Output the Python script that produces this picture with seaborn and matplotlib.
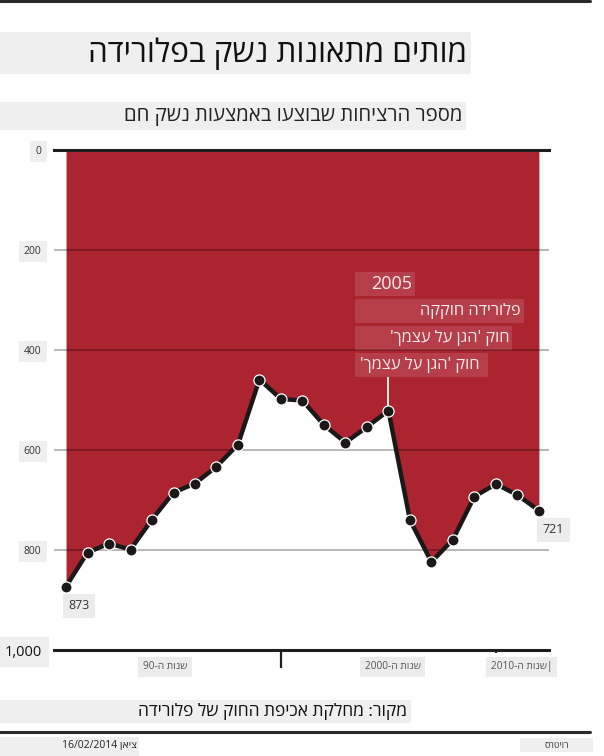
import re
import matplotlib
matplotlib.use("Agg")
import matplotlib.pyplot as plt
from matplotlib.patches import Rectangle
from matplotlib.lines import Line2D
import seaborn as sns

# ---- data ----
years = list(range(1990, 2013))
deaths = [873, 805, 787, 799, 739, 685, 667, 633, 589, 459, 498, 501,
          550, 585, 554, 521, 740, 824, 779, 693, 668, 690, 721]
y_ticks = [0, 200, 400, 600, 800, 1000]
y_tick_labels = ["0", "200", "400", "600", "800", "1,000"]
decade_pos = [1994.6, 2005.2, 2011.2]
decade_labels = ["שנות ה-90", "שנות ה-2000", "|שנות ה-2010"]
title = "מותים מתאונות נשק בפלורידה"
subtitle = "מספר הרציחות שבוצעו באמצעות נשק חם"
annot_year = 2005
annot_lines = ["פלורידה חוקקה", "חוק 'הגן על עצמך'", "חוק 'הגן על עצמך'"]
source = "מקור: מחלקת אכיפת החוק של פלורידה"
date_credit = "ציאן 16/02/2014"
agency = "רויטרס"


def rtl(s):
    r = s[::-1]
    return re.sub(r"[0-9][0-9/.,:]*[0-9]|[0-9]", lambda m: m.group(0)[::-1], r)


sns.set_theme(style="white")
plt.rcParams["font.family"] = ["Open Sans", "Liberation Sans", "DejaVu Sans"]

W, H = 604, 756
fig = plt.figure(figsize=(W / 100, H / 100), dpi=100)
fig.patch.set_facecolor("white")


def px_rect(x0, y0, x1, y1, color, alpha=1.0, z=0.5):
    fig.add_artist(Rectangle((x0 / W, 1 - y1 / H), (x1 - x0) / W, (y1 - y0) / H,
                             transform=fig.transFigure, facecolor=color,
                             edgecolor="none", alpha=alpha, zorder=z))


def px_text(x, y, s, **kw):
    fig.text(x / W, 1 - y / H, s, **kw)


def px_line(x0, x1, y, lw=2, color="#2a2a2a"):
    fig.add_artist(Line2D([x0 / W, x1 / W], [1 - y / H, 1 - y / H],
                          transform=fig.transFigure, color=color, lw=lw))


# axes: left px 54, right px 549, top px 150, bottom px 650
ax = fig.add_axes([54 / W, 1 - 650 / H, 495 / W, 500 / H])
ax.set_facecolor("none")
red = "#ad2431"

ax.fill_between(years, 0, deaths, color=red, lw=0, zorder=1)
sns.lineplot(x=years, y=deaths, ax=ax, color="#1c1818", lw=3.2, marker="o",
             markersize=8, markerfacecolor="#1c1818", markeredgecolor="white",
             markeredgewidth=0.9, zorder=4)

ax.set_xlim(1989.44, 2012.47)
ax.set_ylim(1000, 0)
ax.set_xlabel("")
ax.set_ylabel("")

# grid
for yv in y_ticks[1:-1]:
    ax.axhline(yv, color="black", alpha=0.3, lw=1.3, zorder=2)

for side in ["left", "right"]:
    ax.spines[side].set_visible(False)
for side in ["top", "bottom"]:
    ax.spines[side].set_color("#1e1e1e")
    ax.spines[side].set_linewidth(2.2)
    ax.spines[side].set_zorder(5)

# y ticks
ax.set_yticks(y_ticks)
ax.set_yticklabels(y_tick_labels)
ax.tick_params(axis="y", length=0, pad=9, labelsize=7.5, labelcolor="#333333")
for lab in ax.get_yticklabels():
    lab.set_bbox(dict(boxstyle="square,pad=0.5", fc="#efefef", ec="none"))
big = ax.get_yticklabels()[-1]
big.set_fontsize(10.5)
big.set_color("#111111")

# x ticks: decade divider ticks
ax.set_xticks([2000, 2010])
ax.set_xticklabels(["", ""])
ax.tick_params(axis="x", which="major", direction="out", length=13, width=1.6,
               color="#1e1e1e", bottom=True)
ticks = ax.xaxis.get_major_ticks()
ticks[1].tick1line.set_markersize(2.5)
ax.set_xticks(decade_pos, minor=True)
ax.set_xticklabels([rtl(s) for s in decade_labels], minor=True)
ax.tick_params(axis="x", which="minor", length=0, pad=8, labelsize=7.3,
               labelcolor="#555555")
for lab in ax.get_xticklabels(minor=True):
    lab.set_bbox(dict(boxstyle="square,pad=0.45", fc="#ececec", ec="none"))

# end labels
lab_box = dict(boxstyle="square,pad=0.45", fc="#ececec", ec="none")
ax.annotate(f"{deaths[0]}", (years[0], deaths[0]), xytext=(9.5, -14),
            textcoords="offset points", ha="center", va="center", fontsize=9,
            color="#333333", bbox=lab_box, zorder=6)
ax.annotate(f"{deaths[-1]}", (years[-1], deaths[-1]), xytext=(10.5, -14),
            textcoords="offset points", ha="center", va="center", fontsize=9,
            color="#333333", bbox=lab_box, zorder=6)

# annotation for 2005
ai = years.index(annot_year)
ax.vlines(annot_year, 454, deaths[ai], color="white", lw=1.3, zorder=3)
px_rect(355, 272, 415, 296, "white", alpha=0.12, z=1)
px_text(392, 284, str(annot_year), ha="center", va="center", fontsize=13,
        color="#f7ecec", zorder=2)
boxes = [(355, 299, 524, 323, 521, 311), (355, 326, 512, 350, 509, 338),
         (355, 353, 488, 377, 480, 365)]
for (x0, y0, x1, y1, tx, ty), s in zip(boxes, annot_lines):
    px_rect(x0, y0, x1, y1, "white", alpha=0.12, z=1)
    px_text(tx, ty, rtl(s), ha="right", va="center", fontsize=11.8,
            color="#f7ecec", zorder=2)

# header
px_line(0, 590, 1, lw=2.2)
px_rect(0, 32, 471, 74, "#efefef", z=0.2)
px_text(467, 53, rtl(title), ha="right", va="center", fontsize=22.7,
        color="#111111")
px_rect(0, 102, 466, 130, "#efefef", z=0.2)
px_text(462, 116, rtl(subtitle), ha="right", va="center", fontsize=14.6,
        color="#222222")

# footer
px_rect(0, 700, 411, 723, "#efefef", z=0.2)
px_text(407, 711, rtl(source), ha="right", va="center", fontsize=12.5,
        color="#111111")
px_line(0, 590, 732, lw=2.2)
px_rect(0, 737, 139, 756, "#efefef", z=0.2)
px_text(137, 746, rtl(date_credit), ha="right", va="center", fontsize=7.5,
        color="#222222")
px_rect(520, 738, 593, 752, "#efefef", z=0.2)
px_text(557, 745, rtl(agency), ha="center", va="center", fontsize=6.5,
        color="#333333")

fig.savefig("out.png", dpi=100)
